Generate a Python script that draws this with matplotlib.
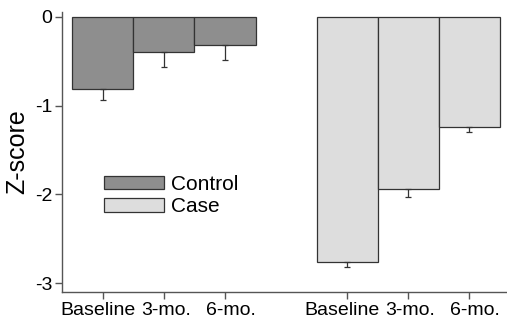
import matplotlib.pyplot as plt
import matplotlib.transforms as mtransforms
import numpy as np

plt.rcParams['font.family'] = ['Liberation Sans', 'DejaVu Sans']

# data
timepoints = ["Baseline", "3-mo.", "6-mo."]
control_mean = [-0.81, -0.39, -0.32]
control_err = [0.13, 0.17, 0.16]
case_mean = [-2.76, -1.94, -1.24]
case_err = [0.06, 0.09, 0.06]

fig = plt.figure(figsize=(5.07, 3.21), dpi=100)
ax = fig.add_axes([0.1223, 0.0903, 0.8777, 0.8723])

x_ctrl = np.arange(len(timepoints))
x_case = x_ctrl + 4

ax.bar(x_ctrl, control_mean, width=1.0, color='#8e8e8e', edgecolor='#333333',
       linewidth=0.9, label='Control')
ax.bar(x_case, case_mean, width=1.0, color='#dddddd', edgecolor='#333333',
       linewidth=0.9, label='Case')

ax.errorbar(x_ctrl, control_mean, yerr=[control_err, [0] * 3], fmt='none',
            ecolor='#333333', elinewidth=0.9, capsize=2.5, capthick=0.9)
ax.errorbar(x_case, case_mean, yerr=[case_err, [0] * 3], fmt='none',
            ecolor='#333333', elinewidth=0.9, capsize=2.5, capthick=0.9)

ax.set_xlim(-0.67, 6.62)
ax.set_ylim(-3.1, 0.056)
ax.set_yticks([0, -1, -2, -3])
ax.set_yticklabels(['0', '-1', '-2', '-3'])
ax.set_xticks(np.concatenate([x_ctrl, x_case]))
ax.set_xticklabels(timepoints + timepoints)

for s in ['top', 'right']:
    ax.spines[s].set_visible(False)
for s in ['left', 'bottom']:
    ax.spines[s].set_color('#555555')
    ax.spines[s].set_linewidth(1.0)
ax.tick_params(axis='both', colors='#555555', labelcolor='black',
               labelsize=14, length=5, width=1.0)
ax.tick_params(axis='x', pad=2)
ax.tick_params(axis='y', pad=2)

# nudge the x labels sideways a little so they don't run into each other
nudge_px = [-5, 2, 6] * 2
for lab, dx in zip(ax.get_xticklabels(), nudge_px):
    off = mtransforms.ScaledTranslation(dx / 100, 0, fig.dpi_scale_trans)
    lab.set_transform(lab.get_transform() + off)

ax.set_ylabel('Z-score', fontsize=18, labelpad=4)

ax.legend(loc='upper left', bbox_to_anchor=(104 / 507, 1 - 175 / 321),
          bbox_transform=fig.transFigure, frameon=False, fontsize=15,
          handlelength=2.9, handleheight=0.62, handletextpad=0.3,
          labelspacing=0.15, borderaxespad=0, borderpad=0)

fig.savefig('out.png', dpi=100)
